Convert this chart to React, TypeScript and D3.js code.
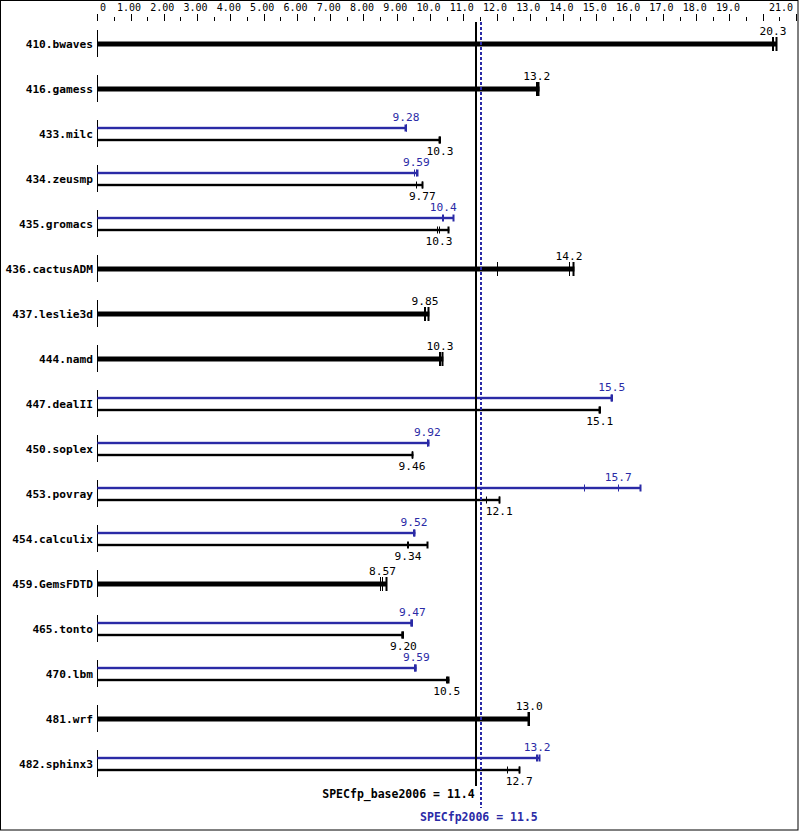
import React from "react";
import * as d3 from "d3";

const benchmarks = [
  "410.bwaves", "416.gamess", "433.milc", "434.zeusmp", "435.gromacs",
  "436.cactusADM", "437.leslie3d", "444.namd", "447.dealII", "450.soplex",
  "453.povray", "454.calculix", "459.GemsFDTD", "465.tonto", "470.lbm",
  "481.wrf", "482.sphinx3",
];

// three runs per benchmark (base)
const baseRuns: number[][] = [
  [20.29, 20.31, 20.42],
  [13.18, 13.21, 13.29],
  [10.28, 10.3, 10.31],
  [9.57, 9.77, 9.78],
  [10.2, 10.27, 10.58],
  [12.02, 14.18, 14.34],
  [9.83, 9.85, 9.98],
  [10.28, 10.3, 10.4],
  [15.08, 15.1, 15.11],
  [9.45, 9.46, 9.5],
  [11.68, 12.08, 12.1],
  [9.3, 9.34, 9.93],
  [8.5, 8.57, 8.7],
  [9.19, 9.2, 9.2],
  [10.48, 10.5, 10.58],
  [12.95, 12.98, 12.99],
  [12.32, 12.68, 12.7],
];

// peak runs (null = peak identical to base)
const peakRuns: (number[] | null)[] = [
  null,
  null,
  [9.27, 9.28, 9.29],
  [9.52, 9.59, 9.63],
  [10.36, 10.4, 10.72],
  null,
  null,
  null,
  [15.45, 15.46, 15.47],
  [9.92, 9.92, 9.98],
  [14.64, 15.66, 16.34],
  [9.5, 9.52, 9.56],
  null,
  [9.46, 9.47, 9.47],
  [9.52, 9.59, 9.59],
  null,
  [13.2, 13.22, 13.3],
];

const tickValues = d3.range(0, 22);
const tickLabels = [
  "0", "1.00", "2.00", "3.00", "4.00", "5.00", "6.00", "7.00", "8.00", "9.00",
  "10.0", "11.0", "12.0", "13.0", "14.0", "15.0", "16.0", "17.0", "18.0", "19.0",
  "", "21.0",
];

const baseScore = 11.37;
const peakScore = 11.53;
const baseScoreLabel = "SPECfp_base2006";
const peakScoreLabel = "SPECfp2006";

const BLUE = "#2a2aa6";
const FONT = "'DejaVu Sans Mono', 'Liberation Mono', monospace";

export default function App() {
  const W = 799;
  const H = 831;
  const x = d3.scaleLinear().domain([0, 21]).range([97.3, 796]);
  const rowY = (i: number) => 44 + i * 45;
  const fmt = d3.format(".3r");

  const minorTicks = d3.range(0.5, 21, 1);

  const drawBar = (
    runs: number[],
    y: number,
    thick: boolean,
    color: string,
    labelPos: "above" | "below",
    key: string
  ) => {
    const med = d3.median(runs) as number;
    const mx = d3.max(runs) as number;
    const x0 = x(0);
    const x1 = x(mx);
    const h = thick ? 5 : 2.4;
    const th = thick ? 7 : 3.5;
    const ly = labelPos === "above" ? y - (thick ? 9.5 : 7.5) : y + 14.5;
    return (
      <g key={key}>
        <rect x={x0} y={y - h / 2} width={x1 - x0} height={h} fill={color} />
        {runs.map((r, j) => (
          <line
            key={j}
            x1={Math.round(x(r)) + (r === mx ? -0.5 : 0.5)}
            x2={Math.round(x(r)) + (r === mx ? -0.5 : 0.5)}
            y1={y - th}
            y2={y + th}
            stroke={color}
            strokeWidth={r === mx ? 2 : 1}
          />
        ))}
        <text
          x={x(med)}
          y={ly}
          textAnchor="middle"
          fontFamily={FONT}
          fontSize={11.2}
          fill={color}
        >
          {fmt(med)}
        </text>
      </g>
    );
  };

  return (
    <svg
      width={W}
      height={H}
      style={{ position: "absolute", left: 0, top: 0, background: "#fff" }}
    >
      <rect x={0.5} y={0.5} width={W - 1.5} height={H - 1.5} fill="#fff" stroke="#000" />
      {/* top axis */}
      {tickValues.map((v, i) => (
        <line key={"mt" + i} x1={Math.round(x(v)) + 0.5} x2={Math.round(x(v)) + 0.5} y1={14} y2={21} stroke="#000" />
      ))}
      {minorTicks.map((v, i) => (
        <line key={"nt" + i} x1={Math.round(x(v)) + 0.5} x2={Math.round(x(v)) + 0.5} y1={17} y2={21} stroke="#000" />
      ))}
      {tickValues.map((v, i) => {
        const lbl = tickLabels[i];
        if (!lbl) return null;
        const w = lbl.length * 6;
        let cx = x(v) - 1.5;
        cx = Math.max(100 + w / 2, Math.min(793 - w / 2, cx));
        return (
          <text key={"tl" + i} x={cx} y={11} textAnchor="middle" fontFamily={FONT} fontSize={10} fill="#000">
            {lbl}
          </text>
        );
      })}

      {/* rows */}
      {benchmarks.map((b, i) => {
        const cy = rowY(i);
        const peak = peakRuns[i];
        return (
          <g key={b}>
            <line x1={97.5} x2={97.5} y1={cy - 14} y2={cy + 13} stroke="#000" />
            <text
              x={93}
              y={cy + 4}
              textAnchor="end"
              fontFamily={FONT}
              fontWeight="bold"
              fontSize={11.2}
              fill="#000"
            >
              {b}
            </text>
            {peak
              ? [
                  drawBar(peak, cy - 6, false, BLUE, "above", "p"),
                  drawBar(baseRuns[i], cy + 6, false, "#000", "below", "b"),
                ]
              : drawBar(baseRuns[i], cy, true, "#000", "above", "b")}
          </g>
        );
      })}

      {/* score lines */}
      <line x1={Math.round(x(baseScore))} x2={Math.round(x(baseScore))} y1={22} y2={786} stroke="#000" strokeWidth={2} />
      <line
        x1={Math.round(x(peakScore))}
        x2={Math.round(x(peakScore))}
        y1={22}
        y2={808}
        stroke={BLUE}
        strokeWidth={2}
        strokeDasharray="3,2"
      />
      <text
        x={x(baseScore) - 1}
        y={798}
        textAnchor="end"
        fontFamily={FONT}
        fontWeight="bold"
        fontSize={11.5}
        fill="#000"
      >
        {`${baseScoreLabel} = ${baseScore.toFixed(1)}`}
      </text>
      <text
        x={x(peakScore) - 2}
        y={821}
        textAnchor="middle"
        fontFamily={FONT}
        fontWeight="bold"
        fontSize={11.5}
        fill={BLUE}
      >
        {`${peakScoreLabel} = ${peakScore.toFixed(1)}`}
      </text>
    </svg>
  );
}
